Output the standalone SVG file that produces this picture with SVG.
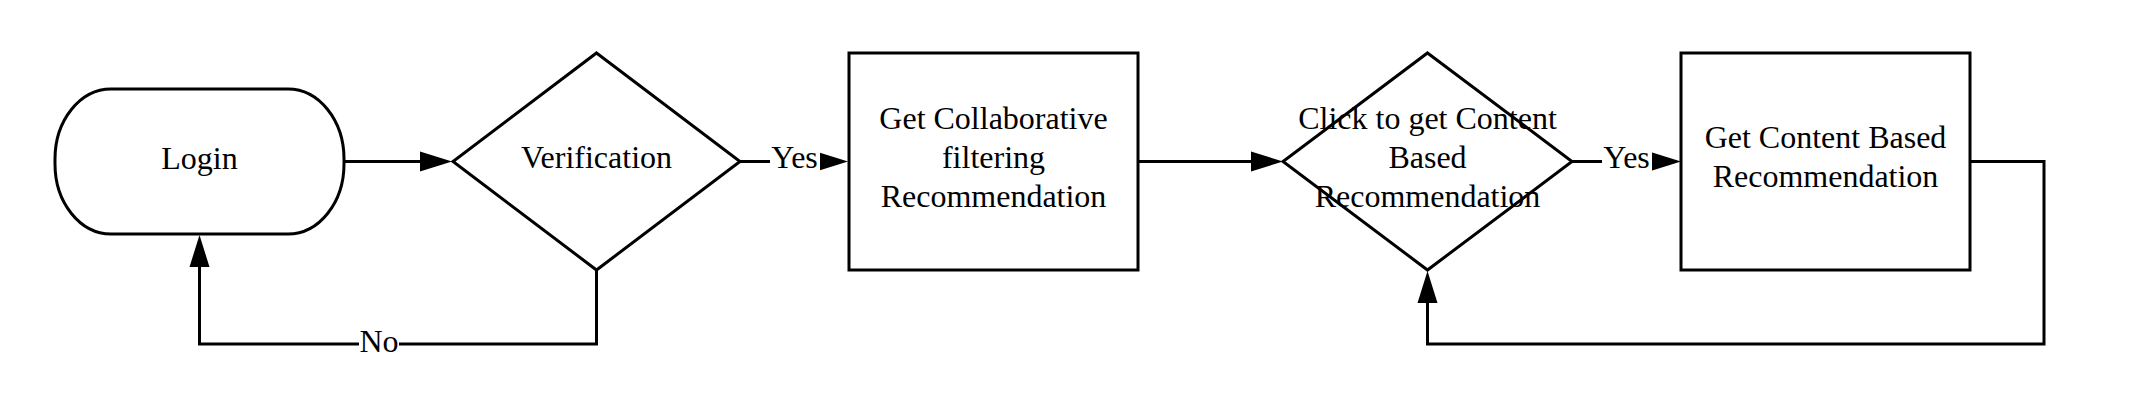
<svg xmlns="http://www.w3.org/2000/svg" width="2130" height="402" viewBox="0 0 2130 402">
  <style>
    .shape { fill: #ffffff; stroke: #000000; stroke-width: 3; }
    .edge { fill: none; stroke: #000000; stroke-width: 3; }
    .txt { font-family: "Liberation Serif", "Times New Roman", serif; font-size: 32px; fill: #000000; text-anchor: middle; }
    .lblbg { fill: #ffffff; stroke: none; }
  </style>
  <defs>
    <marker id="arrow" markerUnits="userSpaceOnUse" markerWidth="33" markerHeight="22" viewBox="0 0 33 22" refX="1" refY="11" orient="auto">
      <path d="M0,1 L32,11 L0,21 Z" fill="#000000"/>
    </marker>
  </defs>
  <rect width="2130" height="402" fill="#ffffff"/>

  <g id="connectors">
    <path class="edge" d="M344,161.5 H421" marker-end="url(#arrow)"/>
    <path class="edge" d="M740,161.5 H817" marker-end="url(#arrow)"/>
    <path class="edge" d="M1138,161.5 H1252" marker-end="url(#arrow)"/>
    <path class="edge" d="M1572,161.5 H1650" marker-end="url(#arrow)"/>
    <path class="edge" d="M596.5,270 V344 H199.5 V266" marker-end="url(#arrow)"/>
    <path class="edge" d="M1970,161.5 H2044 V344 H1427.5 V302" marker-end="url(#arrow)"/>
    <g id="edge-labels">
      <rect class="lblbg" x="770" y="143" width="50" height="32"/>
      <text class="txt" x="794.5" y="168">Yes</text>
      <rect class="lblbg" x="1602" y="143" width="50" height="32"/>
      <text class="txt" x="1626.5" y="168">Yes</text>
      <rect class="lblbg" x="359" y="327" width="40" height="32"/>
      <text class="txt" x="379" y="352">No</text>
    </g>
  </g>

  <g id="node-login">
    <rect class="shape" x="55" y="89" width="289" height="145" rx="56" ry="70"/>
    <text class="txt" x="199.5" y="169">Login</text>
  </g>

  <g id="node-verification">
    <polygon class="shape" points="596.5,53 740,161.5 596.5,270 453,161.5"/>
    <text class="txt" x="596.5" y="168">Verification</text>
  </g>

  <g id="node-collab">
    <rect class="shape" x="849" y="53" width="289" height="217"/>
    <text class="txt" x="993.5" y="129">Get Collaborative</text>
    <text class="txt" x="993.5" y="168">filtering</text>
    <text class="txt" x="993.5" y="207">Recommendation</text>
  </g>

  <g id="node-click-content">
    <polygon class="shape" points="1427.5,53 1572,161.5 1427.5,270 1283,161.5"/>
    <text class="txt" x="1427.5" y="129">Click to get Content</text>
    <text class="txt" x="1427.5" y="168">Based</text>
    <text class="txt" x="1427.5" y="207">Recommendation</text>
  </g>

  <g id="node-content">
    <rect class="shape" x="1681" y="53" width="289" height="217"/>
    <text class="txt" x="1825.5" y="148">Get Content Based</text>
    <text class="txt" x="1825.5" y="187">Recommendation</text>
  </g>
</svg>
